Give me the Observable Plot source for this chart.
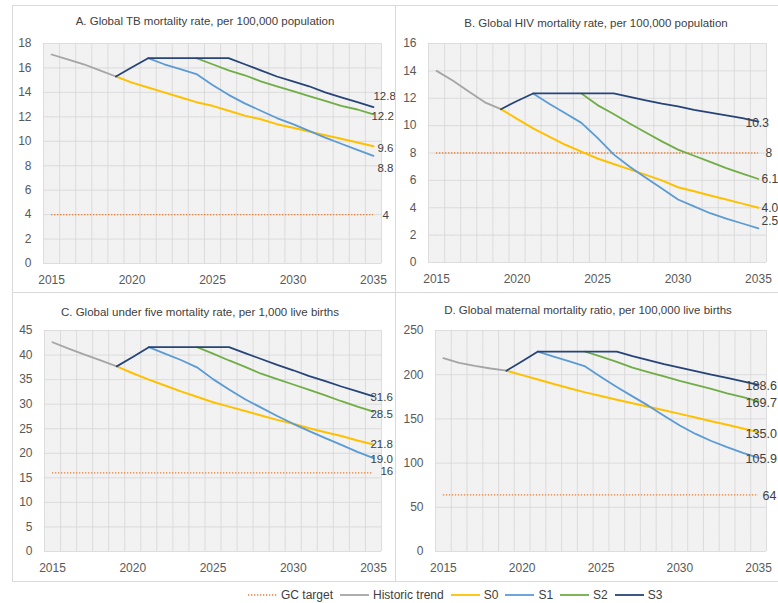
<!DOCTYPE html>
<html><head><meta charset="utf-8">
<script src="https://cdn.jsdelivr.net/npm/d3@7"></script>
<script src="https://cdn.jsdelivr.net/npm/@observablehq/plot@0.6"></script>
<style>
body{margin:0;background:#fff;}
#root{position:relative;width:778px;height:603px;overflow:hidden;font-family:"Liberation Sans",Arial,sans-serif;background:#fff;}
.panel{position:absolute;border:1px solid #d9d9d9;box-sizing:border-box;}
.title{position:absolute;font-size:11.5px;color:#404040;white-space:nowrap;transform:translate(-50%,-50%);}
.chart{position:absolute;}
#legend{position:absolute;left:248px;top:588px;display:flex;align-items:center;font-size:12px;color:#404040;white-space:nowrap;}
#legend .item{display:flex;align-items:center;margin-right:7px;}
#legend svg{margin-right:4px;}
</style></head>
<body><div id="root"></div>
<script>
// ---------- data ----------
const histYears = [2015, 2016, 2017, 2018, 2019];
const s0Years = [2019, 2020, 2021, 2022, 2023, 2024, 2025, 2026, 2027, 2028, 2029, 2030, 2031, 2032, 2033, 2034, 2035];
const s1Years = [2021, 2022, 2023, 2024, 2025, 2026, 2027, 2028, 2029, 2030, 2031, 2032, 2033, 2034, 2035];
const s2Years = [2024, 2025, 2026, 2027, 2028, 2029, 2030, 2031, 2032, 2033, 2034, 2035];
const s3Years = [2019, 2020, 2021, 2022, 2023, 2024, 2025, 2026, 2027, 2028, 2029, 2030, 2031, 2032, 2033, 2034, 2035];
const xTicks = [2015, 2020, 2025, 2030, 2035];

// A. TB
const tbHist = [17.1, 16.7, 16.3, 15.8, 15.3];
const tbS0 = [15.3, 14.8, 14.4, 14.0, 13.6, 13.2, 12.9, 12.5, 12.1, 11.8, 11.4, 11.1, 10.8, 10.5, 10.2, 9.9, 9.6];
const tbS1 = [16.8, 16.3, 15.9, 15.5, 14.6, 13.8, 13.1, 12.5, 11.9, 11.4, 10.85, 10.3, 9.8, 9.3, 8.8];
const tbS2 = [16.8, 16.3, 15.8, 15.4, 14.9, 14.5, 14.1, 13.7, 13.3, 12.9, 12.6, 12.2];
const tbS3 = [15.3, 16.05, 16.8, 16.8, 16.8, 16.8, 16.8, 16.8, 16.3, 15.8, 15.3, 14.9, 14.5, 14.0, 13.6, 13.2, 12.8];
const tbTarget = 4;
const tbTicks = [0, 2, 4, 6, 8, 10, 12, 14, 16, 18];
const tbLabels = ["12.8", "12.2", "9.6", "8.8", "4"];

// B. HIV
const hivHist = [14.0, 13.3, 12.5, 11.7, 11.2];
const hivS0 = [11.2, 10.5, 9.8, 9.2, 8.6, 8.1, 7.6, 7.2, 6.8, 6.4, 6.0, 5.5, 5.2, 4.9, 4.6, 4.3, 4.0];
const hivS1 = [12.35, 11.6, 10.9, 10.2, 9.1, 7.9, 7.0, 6.2, 5.4, 4.6, 4.1, 3.6, 3.2, 2.85, 2.5];
const hivS2 = [12.35, 11.5, 10.85, 10.15, 9.5, 8.85, 8.25, 7.8, 7.35, 6.9, 6.5, 6.1];
const hivS3 = [11.2, 11.8, 12.35, 12.35, 12.35, 12.35, 12.35, 12.35, 12.1, 11.85, 11.6, 11.4, 11.15, 10.95, 10.75, 10.55, 10.3];
const hivTarget = 8;
const hivTicks = [0, 2, 4, 6, 8, 10, 12, 14, 16];
const hivLabels = ["10.3", "6.1", "4.0", "2.5", "8"];

// C. Under five
const u5Hist = [42.6, 41.3, 40.1, 38.9, 37.7];
const u5S0 = [37.7, 36.3, 35.0, 33.8, 32.6, 31.5, 30.4, 29.5, 28.6, 27.7, 26.8, 26.0, 25.1, 24.3, 23.5, 22.6, 21.8];
const u5S1 = [41.6, 40.3, 39.0, 37.5, 35.1, 33.0, 31.0, 29.3, 27.6, 26.0, 24.5, 23.1, 21.7, 20.3, 19.0];
const u5S2 = [41.6, 40.3, 38.9, 37.6, 36.2, 35.1, 34.0, 32.9, 31.8, 30.6, 29.5, 28.5];
const u5S3 = [37.7, 39.6, 41.6, 41.6, 41.6, 41.6, 41.6, 41.6, 40.4, 39.2, 38.0, 36.9, 35.7, 34.7, 33.6, 32.6, 31.6];
const u5Target = 16;
const u5Ticks = [0, 5, 10, 15, 20, 25, 30, 35, 40, 45];
const u5Labels = ["31.6", "28.5", "21.8", "19.0", "16"];

// D. Maternal
const mmHist = [218.7, 213.5, 210, 207, 204.5];
const mmS0 = [204.5, 199.5, 194.5, 189.5, 184.7, 180, 175.8, 171.7, 167.7, 163.7, 159.7, 155.7, 151.5, 147.4, 143.3, 139.1, 135.0];
const mmS1 = [226.2, 220.5, 215, 209.3, 197.5, 186, 175.5, 165, 153.5, 142.5, 133, 125, 118, 111.5, 105.9];
const mmS2 = [226.2, 220.5, 214.5, 208, 203, 198, 193, 188.5, 184, 179, 174.5, 169.7];
const mmS3 = [204.5, 215.3, 226.2, 226.2, 226.2, 226.2, 226.2, 226.2, 221, 216.5, 212, 208, 204, 200, 196.5, 192.5, 188.6];
const mmTarget = 64;
const mmTicks = [0, 50, 100, 150, 200, 250];
const mmLabels = ["188.6", "169.7", "135.0", "105.9", "64"];

const seriesNames = ["GC target", "Historic trend", "S0", "S1", "S2", "S3"];
const seriesColors = ["#ed7d31", "#a5a5a5", "#ffc000", "#5b9bd5", "#70ad47", "#264478"];

// ---------- layout / styling (not data) ----------
const panels = [
  {id: "A", title: "A. Global TB mortality rate, per 100,000 population",
   hist: tbHist, s0: tbS0, s1: tbS1, s2: tbS2, s3: tbS3, target: tbTarget, ticks: tbTicks, labels: tbLabels,
   labelOf: ["s3", "s2", "s0", "s1", "target"], off: [[0, -11], [-2, 2], [4, 2], [4, 12], [9, 1]],
   box: {l: 12, t: 5, w: 384, h: 288}, titleXY: [205, 21],
   svg: {l: 13, t: 30, w: 383, h: 263, ml: 30, mr: 15, mt: 13, mb: 30}, labelSize: 11.5},
  {id: "B", title: "B. Global HIV mortality rate, per 100,000 population",
   hist: hivHist, s0: hivS0, s1: hivS1, s2: hivS2, s3: hivS3, target: hivTarget, ticks: hivTicks, labels: hivLabels,
   labelOf: ["s3", "s2", "s0", "s1", "target"], off: [[-13, 2], [3, 0], [3, 0], [3, -7], [7, 0]],
   box: {l: 395, t: 5, w: 384, h: 288}, titleXY: [596, 23],
   svg: {l: 396, t: 30, w: 382, h: 262, ml: 32, mr: 12, mt: 13, mb: 30}, labelSize: 12},
  {id: "C", title: "C. Global under five mortality rate, per 1,000 live births",
   hist: u5Hist, s0: u5S0, s1: u5S1, s2: u5S2, s3: u5S3, target: u5Target, ticks: u5Ticks, labels: u5Labels,
   labelOf: ["s3", "s2", "s0", "s1", "target"], off: [[-3, 1], [-3, 3], [-3, 0], [-3, 1], [7, -2]],
   box: {l: 12, t: 292, w: 384, h: 290}, titleXY: [200, 312],
   svg: {l: 13, t: 317, w: 383, h: 264, ml: 31, mr: 15, mt: 13, mb: 30}, labelSize: 11.5},
  {id: "D", title: "D. Global maternal mortality ratio, per 100,000 live births",
   hist: mmHist, s0: mmS0, s1: mmS1, s2: mmS2, s3: mmS3, target: mmTarget, ticks: mmTicks, labels: mmLabels,
   labelOf: ["s3", "s2", "s0", "s1", "target"], off: [[-13, 1], [-13, 2], [-13, 2], [-13, 1], [4, 1]],
   box: {l: 395, t: 292, w: 384, h: 290}, titleXY: [588, 310],
   svg: {l: 396, t: 317, w: 382, h: 264, ml: 39, mr: 12, mt: 13, mb: 30}, labelSize: 12.5}
];

const root = document.getElementById("root");
const font = '"Liberation Sans", Arial, sans-serif';
const gridX = d3.range(2014.5, 2036, 1);

function rows(years, values) { return years.map((y, i) => ({year: y, value: values[i]})); }

for (const p of panels) {
  const box = document.createElement("div");
  box.className = "panel";
  Object.assign(box.style, {left: p.box.l + "px", top: p.box.t + "px", width: p.box.w + "px", height: p.box.h + "px"});
  root.appendChild(box);

  const t = document.createElement("div");
  t.className = "title";
  t.textContent = p.title;
  t.style.left = p.titleXY[0] + "px";
  t.style.top = p.titleXY[1] + "px";
  root.appendChild(t);

  const lineW = 1.8;
  const endVal = {s0: p.s0.at(-1), s1: p.s1.at(-1), s2: p.s2.at(-1), s3: p.s3.at(-1), target: p.target};
  const labelMarks = p.labels.map((txt, i) => Plot.text([{year: 2035, value: endVal[p.labelOf[i]], txt}], {
    x: "year", y: "value", text: "txt", textAnchor: "start", dx: p.off[i][0], dy: p.off[i][1],
    fill: "#404040", fontSize: p.labelSize
  }));

  const chart = Plot.plot({
    width: p.svg.w, height: p.svg.h,
    marginLeft: p.svg.ml, marginRight: p.svg.mr, marginTop: p.svg.mt, marginBottom: p.svg.mb,
    style: {fontFamily: font, fontSize: "12px", color: "#595959", background: "transparent", overflow: "visible"},
    x: {domain: [2014.5, 2035.5], ticks: xTicks, tickFormat: d => String(d), tickSize: 0, tickPadding: 12, label: null},
    y: {domain: [p.ticks[0], p.ticks.at(-1)], ticks: p.ticks, tickSize: 0, tickPadding: 12, label: null},
    marks: [
      Plot.frame({fill: `url(#hatch${p.id})`, stroke: null}),
      Plot.ruleX(gridX, {stroke: "#d6d6d6", strokeWidth: 0.8}),
      Plot.ruleY(p.ticks, {stroke: "#d6d6d6", strokeWidth: 0.8}),
      Plot.ruleY([p.target], {x1: 2015, x2: 2035, stroke: seriesColors[0], strokeWidth: 1.3, strokeDasharray: "1.3 1.7"}),
      Plot.line(rows(histYears, p.hist), {x: "year", y: "value", stroke: seriesColors[1], strokeWidth: lineW}),
      Plot.line(rows(s0Years, p.s0), {x: "year", y: "value", stroke: seriesColors[2], strokeWidth: 2}),
      Plot.line(rows(s1Years, p.s1), {x: "year", y: "value", stroke: seriesColors[3], strokeWidth: lineW}),
      Plot.line(rows(s2Years, p.s2), {x: "year", y: "value", stroke: seriesColors[4], strokeWidth: lineW}),
      Plot.line(rows(s3Years, p.s3), {x: "year", y: "value", stroke: seriesColors[5], strokeWidth: lineW}),
      ...labelMarks
    ]
  });
  // hatch pattern definition
  const ns = "http://www.w3.org/2000/svg";
  const defs = document.createElementNS(ns, "defs");
  defs.innerHTML = `<pattern id="hatch${p.id}" patternUnits="userSpaceOnUse" width="3" height="3">
    <rect width="3" height="3" fill="#f7f7f7"/>
    <path d="M-1,-1 L4,4 M-1,2 L1,4 M2,-1 L4,1" stroke="#dfdfdf" stroke-width="0.7"/>
  </pattern>`;
  chart.insertBefore(defs, chart.firstChild);
  chart.classList.add("chart");
  Object.assign(chart.style, {left: p.svg.l + "px", top: p.svg.t + "px"});
  root.appendChild(chart);
}

// legend
const legend = document.createElement("div");
legend.id = "legend";
seriesNames.forEach((name, i) => {
  const item = document.createElement("div");
  item.className = "item";
  const dash = i === 0 ? 'stroke-dasharray="1.3 1.7"' : "";
  const sw = i === 0 ? 1.3 : 1.8;
  item.innerHTML = `<svg width="29" height="10"><line x1="0" x2="29" y1="5" y2="5" stroke="${seriesColors[i]}" stroke-width="${sw}" ${dash}/></svg><span>${name}</span>`;
  legend.appendChild(item);
});
root.appendChild(legend);
</script>
</body></html>
